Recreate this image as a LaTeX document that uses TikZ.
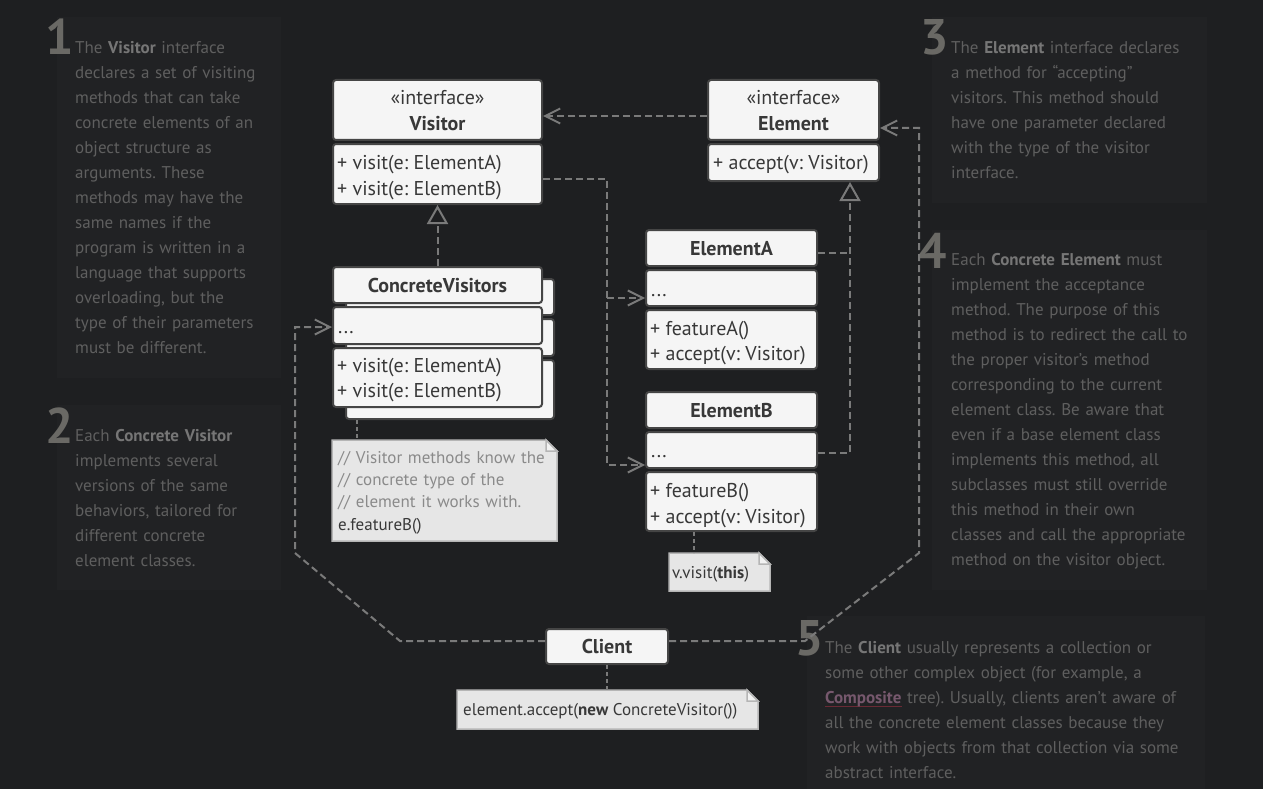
\documentclass[tikz,border=0pt]{standalone}
\usepackage{fontspec}
\setmainfont{PT Sans}
\usetikzlibrary{arrows.meta}
\definecolor{bg}{HTML}{1E1F21}
\definecolor{panel}{HTML}{212224}
\definecolor{ptxt}{HTML}{5F5F5F}
\definecolor{pbold}{HTML}{767676}
\definecolor{pnum}{HTML}{6A6965}
\definecolor{boxfill}{HTML}{F5F5F5}
\definecolor{boxline}{HTML}{454545}
\definecolor{boxtxt}{HTML}{383838}
\definecolor{conn}{HTML}{7A7A7A}
\definecolor{notefill}{HTML}{E6E6E6}
\definecolor{notefold}{HTML}{F2F2F2}
\definecolor{noteline}{HTML}{B5B5B5}
\definecolor{notecom}{HTML}{8A8A8A}
\definecolor{compc}{HTML}{76586D}
\definecolor{compul}{HTML}{6A2A35}
\newcommand\pb[1]{\textcolor{pbold}{\textbf{#1}}}
\newcommand\compword{\leavevmode\rlap{\textcolor{compul}{\rule[-4pt]{77pt}{1.3pt}}}\textcolor{compc}{\textbf{Composite}}}
\newcommand\compbox[5]{\node[comp, minimum width={(#4-#2-2)*1pt}, minimum height={(#5-#3-2)*1pt}] (#1) at ({(#2+#4)/2},{(#3+#5)/2}) {};}
\newcommand\notebox[5]{%
  \node[inner sep=0, outer sep=0, minimum width={(#4-#2)*1pt}, minimum height={(#5-#3)*1pt}] (#1) at ({(#2+#4)/2},{(#3+#5)/2}) {};
  \draw[notestyle] (#1.north west) -- ([xshift=-11pt]#1.north east) -- ([yshift=-11pt]#1.north east) -- (#1.south east) -- (#1.south west) -- cycle;
  \draw[notestyle, fill=notefold] ([xshift=-11pt]#1.north east) -- ([xshift=-11pt,yshift=-11pt]#1.north east) -- ([yshift=-11pt]#1.north east) -- cycle;}
\frenchspacing
\begin{document}
\begin{tikzpicture}[x=1pt,y=-1pt,
  comp/.style={draw=boxline, fill=boxfill, line width=2pt, rounded corners=3pt, inner sep=0},
  notestyle/.style={draw=noteline, fill=notefill, line width=1.5pt, line join=miter},
  btxt/.style={inner sep=0, text=boxtxt, font=\fontsize{20}{24}\selectfont},
  ntxt/.style={inner sep=0, anchor=north west, text width=260pt, align=left, text=notecom, font=\fontsize{17}{22.3}\selectfont\frenchspacing},
  ptext/.style={anchor=north west, inner sep=0, text width=420pt, align=left, text=ptxt, font=\fontsize{17}{25}\selectfont\frenchspacing},
  pnumber/.style={anchor=base west, inner sep=0, text=pnum, font=\fontsize{50}{50}\selectfont\bfseries},
  dep/.style={draw=conn, line width=2pt, dash pattern=on 7pt off 4pt},
  dotc/.style={draw=conn, line width=2pt, dash pattern=on 4pt off 3pt},
  barb/.tip={Straight Barb[length=15pt, width=15pt, line width=2pt]},
  tri/.tip={Triangle[length=19pt, width=21pt, line width=2pt, fill=bg]}
]
\useasboundingbox (0,0) rectangle (1263,789);
\fill[bg] (0,0) rectangle (1263,789);
% panels
\fill[panel] (57,17) rectangle (281,378);
\fill[panel] (57,405) rectangle (281,590);
\fill[panel] (932,17) rectangle (1207,203);
\fill[panel] (932,230) rectangle (1207,590);
\fill[panel] (807,616) rectangle (1205,789);
% numbers
\node[pnumber] (num1) at (45,55) {1};
\node[pnumber] (num2) at (45,443) {2};
\node[pnumber] (num3) at (920,55) {3};
\node[pnumber] (num4) at (918,268) {4};
\node[pnumber] (num5) at (795,655) {5};
% panel texts
\node[ptext] (p1) at (75,35.5) {\strut The \pb{Visitor} interface\\declares a set of visiting\\methods that can take\\concrete elements of an\\object structure as\\arguments. These\\methods may have the\\same names if the\\program is written in a\\language that supports\\overloading, but the\\type of their parameters\\must be different.};
\node[ptext] (p2) at (75,423.5) {\strut Each \pb{Concrete Visitor}\\implements several\\versions of the same\\behaviors, tailored for\\different concrete\\element classes.};
\node[ptext] (p3) at (951,35.5) {\strut The \pb{Element} interface declares\\a method for “accepting”\\visitors. This method should\\have one parameter declared\\with the type of the visitor\\interface.};
\node[ptext] (p4) at (951,247.5) {\strut Each \pb{Concrete Element} must\\implement the acceptance\\method. The purpose of this\\method is to redirect the call to\\the proper visitor’s method\\corresponding to the current\\element class. Be aware that\\even if a base element class\\implements this method, all\\subclasses must still override\\this method in their own\\classes and call the appropriate\\method on the visitor object.};
\node[ptext] (p5) at (825,635.5) {\strut The \pb{Client} usually represents a collection or\\some other complex object (for example, a\\\compword\ tree). Usually, clients aren’t aware of\\all the concrete element classes because they\\work with objects from that collection via some\\abstract interface.};
% coordinates for connectors
\coordinate (j1) at (607,179);
\coordinate (j2) at (607,298);
\coordinate (j3) at (607,465);
\coordinate (j4) at (850,453);
\coordinate (j5) at (850,253);
\coordinate (c1) at (400,641);
\coordinate (c2) at (295,553);
\coordinate (c3) at (295,327);
\coordinate (d1) at (805,641);
\coordinate (d2) at (919,553);
\coordinate (d3) at (919,128);
% boxes
\compbox{vh}{332}{79}{543}{141}
\compbox{vm}{332}{143}{543}{205}
\compbox{eh}{707}{79}{880}{141}
\compbox{em}{707}{143}{880}{182}
\compbox{cvs1}{345}{278}{555}{316}
\compbox{cvs2}{345}{318}{555}{357}
\compbox{cvs3}{345}{359}{555}{420}
\compbox{cvh}{332}{266}{543}{304}
\compbox{cvd}{332}{306}{543}{345}
\compbox{cvm}{332}{347}{543}{408}
\compbox{eah}{645}{229}{818}{267}
\compbox{ead}{645}{269}{818}{307}
\compbox{eam}{645}{309}{818}{370}
\compbox{ebh}{645}{391}{818}{429}
\compbox{ebd}{645}{431}{818}{469}
\compbox{ebm}{645}{471}{818}{532}
\compbox{cl}{545}{628}{669}{665}
% connectors
\draw[dep, -barb] (eh.west |- 0,116) -- (vh.east |- 0,116);
\draw[dep, -barb] (vm.east |- j1) -- (j1) -- (j3) -- (ebd.west |- j3);
\draw[dep, -barb] (j2) -- (ead.west |- j2);
\draw[dep, -tri] (cvh.north) -- (vm.south);
\draw[dep, -tri] (ebd.east |- j4) -- (j4) -- (em.south -| j4);
\draw[dep] (eah.east |- j5) -- (j5);
\draw[dep, -barb] (cl.west |- c1) -- (c1) -- (c2) -- (c3) -- (cvd.west |- c3);
\draw[dep, -barb] (cl.east |- d1) -- (d1) -- (d2) -- (d3) -- (eh.east |- d3);
% box texts
\node[btxt, anchor=base] (vt1) at (437.5,105) {«interface»};
\node[btxt, anchor=base] (vt2) at (437.5,131) {\textbf{Visitor}};
\node[btxt, anchor=base west] (vt3) at (337,169) {+ visit(e: ElementA)};
\node[btxt, anchor=base west] (vt4) at (337,195) {+ visit(e: ElementB)};
\node[btxt, anchor=base] (et1) at (793.5,105) {«interface»};
\node[btxt, anchor=base] (et2) at (793.5,131) {\textbf{Element}};
\node[btxt, anchor=base west] (et3) at (713,169) {+ accept(v: Visitor)};
\node[btxt, anchor=base] (cvt1) at (437.5,292) {\textbf{ConcreteVisitors}};
\node[btxt, anchor=base west] (cvt2) at (338,333) {...};
\node[btxt, anchor=base west] (cvt3) at (337,372) {+ visit(e: ElementA)};
\node[btxt, anchor=base west] (cvt4) at (337,397) {+ visit(e: ElementB)};
\node[btxt, anchor=base] (eat1) at (731.5,255) {\textbf{ElementA}};
\node[btxt, anchor=base west] (eat2) at (651,296) {...};
\node[btxt, anchor=base west] (eat3) at (650,335) {+ featureA()};
\node[btxt, anchor=base west] (eat4) at (650,360) {+ accept(v: Visitor)};
\node[btxt, anchor=base] (ebt1) at (731.5,417) {\textbf{ElementB}};
\node[btxt, anchor=base west] (ebt2) at (651,457) {...};
\node[btxt, anchor=base west] (ebt3) at (650,497) {+ featureB()};
\node[btxt, anchor=base west] (ebt4) at (650,523) {+ accept(v: Visitor)};
\node[btxt, anchor=base] (clt) at (607,653) {\textbf{Client}};
% notes
\notebox{n1}{332}{440}{557}{541}
\notebox{n2}{669}{553}{770}{591}
\notebox{n3}{457}{690}{758}{729}
\node[ntxt] (n1t) at (338,447.4) {\strut// Visitor methods know the\\// concrete type of the\\// element it works with.\\\textcolor{boxtxt}{e.featureB()}};
\node[ntxt, anchor=base west, text=boxtxt, text width=] (n2t) at (672,578) {v.visit(\textbf{this})};
\node[ntxt, anchor=base west, text=boxtxt, text width=] (n3t) at (463,715) {element.accept(\textbf{new} ConcreteVisitor())};
% note links
\coordinate (k1) at (357,0);
\coordinate (k2) at (694,0);
\draw[dotc] (cvs3.south -| k1) -- (n1.north -| k1);
\draw[dotc] (ebm.south -| k2) -- (n2.north -| k2);
\draw[dotc] (cl.south) -- (n3.north -| cl.south);
\end{tikzpicture}
\end{document}
